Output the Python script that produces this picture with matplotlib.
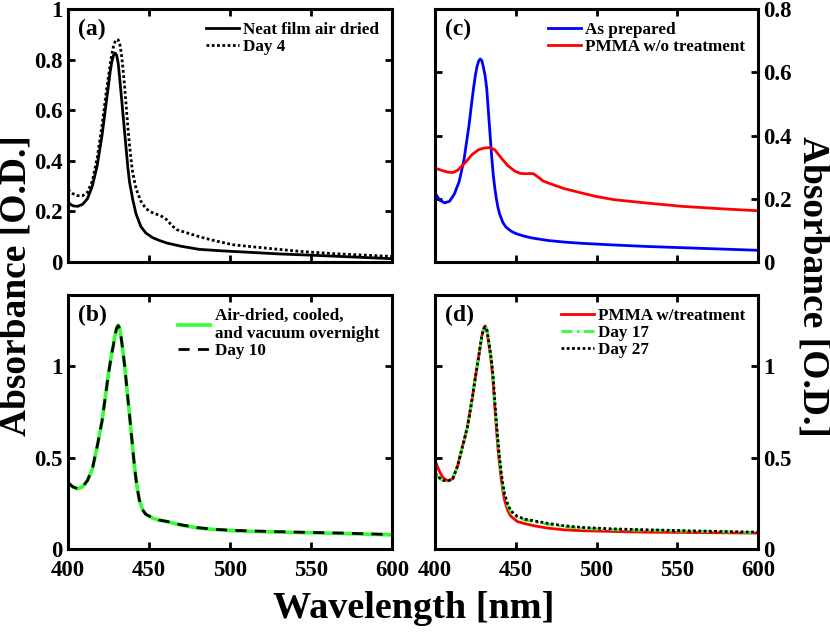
import matplotlib
matplotlib.use("Agg")
import matplotlib.pyplot as plt

plt.rcParams["font.family"] = ["Liberation Serif", "DejaVu Serif"]
plt.rcParams["font.weight"] = "bold"

# (a) neat film
wl_a = [400, 403, 406, 409, 412, 415, 418, 421, 423, 424, 425, 426, 427, 428, 429, 430,
        431, 432, 433, 434, 435, 436, 437, 438, 440, 442, 445, 448, 452, 456, 461, 470,
        481, 495, 510, 530, 550, 575, 600]
neat_air = [0.235, 0.222, 0.220, 0.228, 0.250, 0.300, 0.380, 0.500, 0.600, 0.650, 0.700,
            0.750, 0.790, 0.815, 0.826, 0.818, 0.785, 0.720, 0.650, 0.580, 0.510, 0.440,
            0.370, 0.315, 0.246, 0.190, 0.140, 0.115, 0.097, 0.086, 0.075, 0.062,
            0.050, 0.044, 0.039, 0.032, 0.027, 0.020, 0.013]
wl_a4 = [400, 403, 406, 409, 412, 415, 418, 421, 424, 426, 427, 428, 429, 430, 431, 432,
         433, 434, 435, 436, 437, 438, 439, 440, 442, 445, 448, 451, 455, 458, 461, 464,
         467, 472, 481, 490, 502, 522, 543, 564, 580, 600]
day4 = [0.286, 0.270, 0.262, 0.262, 0.275, 0.320, 0.410, 0.540, 0.690, 0.780, 0.820,
        0.850, 0.870, 0.880, 0.878, 0.860, 0.820, 0.760, 0.690, 0.610, 0.530, 0.460,
        0.400, 0.350, 0.290, 0.240, 0.212, 0.198, 0.188, 0.180, 0.167, 0.145,
        0.128, 0.118, 0.100, 0.085, 0.068, 0.055, 0.042, 0.033, 0.028, 0.022]

# (b) air-dried, cooled, vacuum
wl_b = [400, 403, 406, 409, 412, 415, 418, 421, 423, 425, 427, 428, 429, 430, 431, 432,
        433, 434, 435, 436, 437, 438, 439, 440, 441, 442, 443, 444, 446, 448, 452, 456,
        461, 470, 481, 490, 502, 520, 543, 570, 600]
air_vac = [0.363, 0.340, 0.330, 0.340, 0.375, 0.437, 0.560, 0.700, 0.830, 0.960, 1.070,
           1.115, 1.170, 1.210, 1.225, 1.205, 1.145, 1.075, 1.000, 0.910, 0.820, 0.730,
           0.640, 0.545, 0.455, 0.380, 0.320, 0.270, 0.215, 0.190, 0.170, 0.158,
           0.150, 0.130, 0.114, 0.107, 0.100, 0.095, 0.090, 0.085, 0.077]
day10 = [0.363, 0.340, 0.330, 0.340, 0.375, 0.437, 0.560, 0.700, 0.830, 0.960, 1.070,
         1.115, 1.170, 1.208, 1.222, 1.205, 1.145, 1.075, 1.000, 0.910, 0.820, 0.730,
         0.640, 0.545, 0.455, 0.380, 0.320, 0.270, 0.215, 0.190, 0.171, 0.159,
         0.151, 0.132, 0.116, 0.108, 0.102, 0.097, 0.092, 0.087, 0.079]

# (c) as prepared vs PMMA without treatment
wl_c = [400, 403, 406, 409, 412, 415, 418, 421, 423, 424, 425, 426, 427, 428, 429, 430,
        431, 432, 433, 434, 435, 436, 437, 438, 439, 440, 442, 444, 447, 450, 455, 460,
        470, 480, 491, 510, 532, 560, 600]
as_prep = [0.218, 0.195, 0.187, 0.192, 0.215, 0.255, 0.325, 0.430, 0.515, 0.555, 0.590,
           0.618, 0.635, 0.642, 0.637, 0.615, 0.590, 0.550, 0.480, 0.410, 0.340, 0.280,
           0.235, 0.200, 0.172, 0.152, 0.125, 0.110, 0.098, 0.090, 0.082, 0.076,
           0.068, 0.063, 0.059, 0.054, 0.049, 0.044, 0.037]
wl_c2 = [400, 404, 408, 411, 414, 418.5, 423, 427, 430, 434, 437, 441, 445, 449.5, 453,
         456, 459, 461, 464, 467, 470, 480, 491, 500, 511, 530, 553, 575, 600]
pmma_wo = [0.297, 0.290, 0.284, 0.283, 0.290, 0.313, 0.340, 0.355, 0.360, 0.362, 0.355,
           0.329, 0.305, 0.287, 0.280, 0.279, 0.280, 0.279, 0.268, 0.256, 0.250, 0.232,
           0.218, 0.207, 0.197, 0.187, 0.176, 0.169, 0.162]

# (d) PMMA with treatment
wl_d = [400, 403, 405, 408, 411, 414, 417, 420, 423, 425, 427, 428, 429, 430, 431, 432,
        433, 434, 435, 436, 437, 438, 439, 440, 441, 442, 443, 445, 447, 451, 456, 462,
        470, 480, 491, 510, 532, 560, 600]
pmma_w = [0.483, 0.420, 0.390, 0.373, 0.385, 0.455, 0.560, 0.665, 0.820, 0.940, 1.050,
          1.110, 1.165, 1.205, 1.221, 1.200, 1.140, 1.080, 1.010, 0.910, 0.780, 0.660,
          0.548, 0.460, 0.385, 0.320, 0.270, 0.210, 0.179, 0.150, 0.138,
          0.126, 0.114, 0.105, 0.100, 0.096, 0.092, 0.090, 0.087]
day17 = [0.410, 0.385, 0.375, 0.372, 0.385, 0.455, 0.560, 0.665, 0.820, 0.940, 1.050,
         1.110, 1.165, 1.200, 1.218, 1.205, 1.150, 1.090, 1.025, 0.930, 0.805, 0.690,
         0.580, 0.490, 0.410, 0.345, 0.295, 0.235, 0.200, 0.172, 0.158,
         0.148, 0.135, 0.122, 0.113, 0.106, 0.102, 0.097, 0.090]
day27 = [0.415, 0.388, 0.376, 0.372, 0.385, 0.455, 0.560, 0.665, 0.820, 0.940, 1.050,
         1.110, 1.165, 1.200, 1.215, 1.205, 1.152, 1.095, 1.030, 0.940, 0.815, 0.700,
         0.590, 0.500, 0.420, 0.355, 0.305, 0.245, 0.208, 0.178, 0.163,
         0.153, 0.140, 0.127, 0.118, 0.110, 0.105, 0.099, 0.092]

GREEN = "#33ff33"

fig = plt.figure(figsize=(8.3, 6.32), dpi=100)
W, H = 830, 632


def px_axes(left, top, right, bottom):
    return fig.add_axes([left / W, 1 - bottom / H, (right - left) / W, (bottom - top) / H])


ax_a = px_axes(68, 9, 392, 262)
ax_b = px_axes(68, 295, 392, 549)
ax_c = px_axes(435, 9, 758, 262)
ax_d = px_axes(435, 295, 758, 549)

for ax in (ax_a, ax_b, ax_c, ax_d):
    ax.set_xlim(400, 600)
    ax.set_xticks([400, 450, 500, 550, 600])
    for s in ax.spines.values():
        s.set_linewidth(2.2)
    ax.tick_params(direction="in", length=5, width=2, top=True, right=True,
                   labelsize=16.5, pad=4)
    ax.tick_params(axis="x", pad=8)

lw = 2.0

ax_a.plot(wl_a, neat_air, color="black", lw=lw, label="Neat film air dried")
ax_a.plot(wl_a4, day4, color="black", lw=lw, ls=(0, (1, 0.9)), label="Day 4")
ax_a.set_ylim(0, 1)
ax_a.set_yticks([0, 0.2, 0.4, 0.6, 0.8, 1])
ax_a.set_yticklabels(["0", "0.2", "0.4", "0.6", "0.8", "1"])
ax_a.tick_params(labelbottom=False)

ax_b.plot(wl_b, air_vac, color=GREEN, lw=lw + 0.6,
          label="Air-dried, cooled,\nand vacuum overnight")
ax_b.plot(wl_b, day10, color="black", lw=lw, ls=(0, (4, 3)), label="Day 10")
ax_b.set_ylim(0, 1.39)
ax_b.set_yticks([0, 0.5, 1])
ax_b.set_yticklabels(["0", "0.5", "1"])

ax_c.plot(wl_c, as_prep, color="blue", lw=lw, label="As prepared")
ax_c.plot(wl_c2, pmma_wo, color="red", lw=lw, label="PMMA w/o treatment")
ax_c.set_ylim(0, 0.8)
ax_c.set_yticks([0, 0.2, 0.4, 0.6, 0.8])
ax_c.set_yticklabels(["0", "0.2", "0.4", "0.6", "0.8"])
ax_c.tick_params(labelbottom=False, labelleft=False, labelright=True)

ax_d.plot(wl_d, pmma_w, color="red", lw=lw, label="PMMA w/treatment")
ax_d.plot(wl_d, day17, color=GREEN, lw=lw, ls=(0, (4, 1.5, 1, 1.5)), label="Day 17")
ax_d.plot(wl_d, day27, color="black", lw=lw, ls=(0, (1, 0.9)), label="Day 27")
ax_d.set_ylim(0, 1.39)
ax_d.set_yticks([0, 0.5, 1])
ax_d.set_yticklabels(["0", "0.5", "1"])
ax_d.tick_params(labelleft=False, labelright=True)

for ax, tag in ((ax_a, "(a)"), (ax_b, "(b)"), (ax_c, "(c)"), (ax_d, "(d)")):
    ax.text(0.03, 0.96, tag, transform=ax.transAxes, ha="left", va="top",
            fontsize=17, fontweight="bold")
    ax.legend(loc="upper right", frameon=False, handlelength=1.9,
              handletextpad=0.25, labelspacing=0.05, borderaxespad=0.35,
              prop={"weight": "bold", "size": 12.3})

fig.text(414 / W, 1 - 608 / H, "Wavelength [nm]", ha="center", va="center",
         fontsize=27.5, fontweight="bold")
fig.text(16 / W, 1 - 286 / H, "Absorbance [O.D.]", ha="center", va="center",
         rotation=90, fontsize=27, fontweight="bold")
fig.text(813 / W, 1 - 286 / H, "Absorbance [O.D.]", ha="center", va="center",
         rotation=-90, fontsize=27, fontweight="bold")

fig.savefig("out.png", dpi=100)
